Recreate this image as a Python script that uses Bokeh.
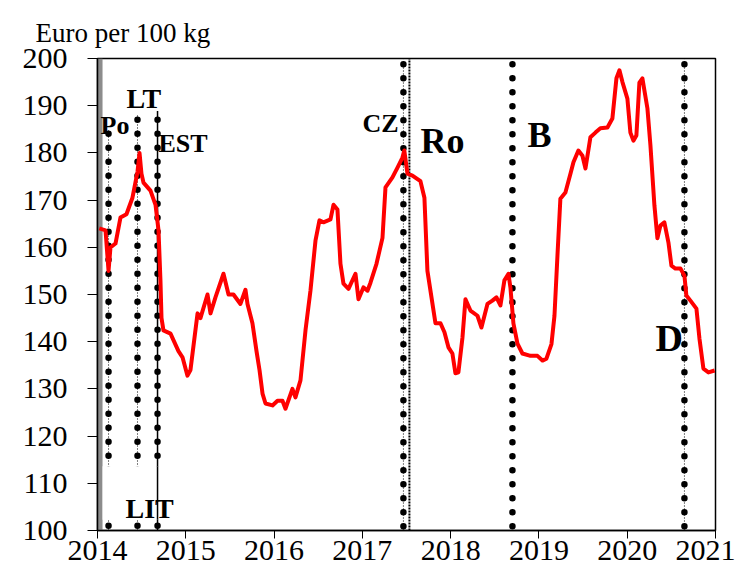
from bokeh.plotting import figure
from bokeh.models import FixedTicker, Range1d, ColumnDataSource
from bokeh.core.properties import value
from bokeh.embed import file_html
from bokeh.resources import INLINE

# ---- data (decimal years, Euro per 100 kg) ----
years = [2014.02, 2014.091, 2014.125, 2014.147, 2014.204, 2014.260, 2014.328, 2014.396, 2014.453, 2014.476,
         2014.498, 2014.521, 2014.600, 2014.657, 2014.691, 2014.713, 2014.725, 2014.747, 2014.827, 2014.917,
         2014.963, 2015.019, 2015.053, 2015.133, 2015.166, 2015.246, 2015.280, 2015.336, 2015.427, 2015.484,
         2015.540, 2015.619, 2015.676, 2015.699, 2015.755, 2015.801, 2015.835, 2015.869, 2015.903, 2015.982,
         2016.039, 2016.095, 2016.129, 2016.208, 2016.242, 2016.299, 2016.356, 2016.412, 2016.469, 2016.514,
         2016.559, 2016.639, 2016.673, 2016.718, 2016.752, 2016.786, 2016.843, 2016.922, 2016.956, 2017.012,
         2017.058, 2017.092, 2017.160, 2017.228, 2017.262, 2017.341, 2017.398, 2017.454, 2017.475, 2017.511,
         2017.567, 2017.658, 2017.703, 2017.737, 2017.783, 2017.828, 2017.885, 2017.930, 2017.975, 2018.020,
         2018.054, 2018.088, 2018.134, 2018.168, 2018.224, 2018.304, 2018.349, 2018.417, 2018.473, 2018.519,
         2018.564, 2018.609, 2018.655, 2018.677, 2018.711, 2018.757, 2018.813, 2018.904, 2018.983, 2019.040,
         2019.085, 2019.142, 2019.176, 2019.210, 2019.243, 2019.300, 2019.357, 2019.391, 2019.447, 2019.493,
         2019.527, 2019.583, 2019.640, 2019.696, 2019.776, 2019.832, 2019.878, 2019.912, 2019.946, 2020.002,
         2020.036, 2020.070, 2020.104, 2020.138, 2020.172, 2020.229, 2020.263, 2020.308, 2020.342, 2020.376,
         2020.421, 2020.467, 2020.501, 2020.546, 2020.603, 2020.648, 2020.670, 2020.716, 2020.784, 2020.818,
         2020.863, 2020.920, 2020.990]
prices = [164.0, 163.6, 155.0, 160.0, 160.8, 166.3, 167.0, 170.5, 176.0, 180.0,
          175.6, 173.7, 172.0, 169.0, 163.6, 153.0, 145.0, 142.4, 141.7, 138.0,
          136.7, 132.8, 134.0, 146.0, 145.0, 150.0, 146.0, 149.4, 154.4, 150.0,
          150.0, 148.0, 151.0, 148.0, 143.9, 138.0, 134.0, 129.0, 126.9, 126.5,
          127.5, 127.5, 125.8, 130.0, 128.2, 131.8, 142.4, 150.8, 161.4, 165.7,
          165.3, 165.9, 169.0, 168.0, 156.5, 152.3, 151.2, 154.4, 149.0, 151.5,
          150.8, 152.5, 156.5, 162.0, 172.7, 174.8, 176.9, 179.0, 180.5, 175.6,
          175.2, 174.0, 170.5, 155.0, 149.4, 143.9, 143.9, 142.0, 138.8, 137.5,
          133.3, 133.5, 140.9, 149.0, 146.6, 145.5, 143.0, 148.0, 148.7, 149.4,
          147.7, 153.0, 154.4, 151.5, 143.9, 139.6, 137.5, 137.0, 137.0, 136.0,
          136.4, 139.5, 145.5, 158.3, 170.3, 171.6, 175.6, 178.0, 180.5, 179.4,
          176.7, 183.3, 184.3, 185.2, 185.4, 187.3, 195.8, 197.5, 195.0, 191.5,
          184.3, 182.6, 183.7, 194.9, 195.8, 189.4, 181.6, 168.9, 161.9, 164.6,
          165.3, 161.0, 156.1, 155.5, 155.5, 154.0, 149.8, 148.7, 147.0, 140.7,
          134.3, 133.5, 133.9]

# ASF outbreak markers
event_names = ["Po", "LT", "EST", "CZ", "B", "D"]
event_years = [2014.125, 2014.453, 2014.68, 2017.465, 2018.70, 2020.648]
event_bottom = [101.0, 101.0, 101.0, 100.9, 100.9, 100.9]
event_top = [185.0, 188.3, 188.5, 199.8, 199.8, 199.8]
thin_dotted = ["Po", "LT", "CZ", "D"]
thin_solid = ["EST"]
ro_year = 2017.533

# annotation texts
label_texts = ["Po", "LT", "EST", "CZ", "Ro", "B", "D", "LIT"]
label_x = [2014.034, 2014.328, 2014.69, 2017.41, 2017.658, 2018.87, 2020.319, 2014.317]
label_y = [185.8, 191.5, 182.0, 186.2, 182.6, 183.7, 140.7, 104.7]
label_size = ["26px", "28px", "26px", "26px", "36px", "36px", "38px", "28px"]
label_align = ["left", "left", "left", "right", "left", "left", "left", "left"]

x_ticks = [2014, 2015, 2016, 2017, 2018, 2019, 2020, 2021]
y_ticks = [100, 110, 120, 130, 140, 150, 160, 170, 180, 190, 200]

FONT = "Liberation Serif"

p = figure(width=735, height=569, output_backend="svg", toolbar_location=None,
           x_range=Range1d(2014, 2021), y_range=Range1d(100, 200),
           min_border_left=97, min_border_right=20, min_border_top=58, min_border_bottom=39)
p.xaxis.major_label_text_font = "Times New Roman"
p.yaxis.major_label_text_font = "Times New Roman"
p.xaxis.major_label_text_font_size = "30px"
p.yaxis.major_label_text_font_size = "30px"
p.xaxis.major_label_text_color = "black"
p.yaxis.major_label_text_color = "black"
p.xaxis.ticker = FixedTicker(ticks=x_ticks)
p.yaxis.ticker = FixedTicker(ticks=y_ticks)

p.xgrid.grid_line_color = None
p.ygrid.grid_line_color = None
p.outline_line_color = "black"
p.outline_line_width = 1.5

p.title.text = "Euro per 100 kg"
p.title.text_font = FONT
p.title.text_font_size = "27px"
p.title.text_font_style = "normal"
p.title.align = "left"
p.title.offset = -62
p.title.standoff = 22
p.title.text_color = "black"

p.xaxis.axis_line_color = "black"
p.yaxis.axis_line_color = "black"
p.xaxis.axis_line_width = 1.5
p.yaxis.axis_line_width = 1.5
p.xaxis.major_tick_line_color = "black"
p.yaxis.major_tick_line_color = "black"
p.xaxis.major_tick_in = 0
p.yaxis.major_tick_in = 0
p.xaxis.minor_tick_line_color = None
p.yaxis.minor_tick_line_color = None
p.xaxis.major_tick_out = 8
p.xaxis.major_label_standoff = 2
p.yaxis.major_tick_out = 10
p.yaxis.major_label_standoff = 20

# gray bar at the left edge
p.quad(left=[2014.0], right=[2014.057], bottom=[100], top=[200], fill_color="#8c8c8c", line_color=None)

# thin lines next to the dotted markers
for name, xv, b, t in zip(event_names, event_years, event_bottom, event_top):
    if name in thin_dotted:
        p.line([xv, xv], [100, t], line_color="black", line_width=1, line_dash="1 2")
    elif name in thin_solid:
        p.line([xv, xv], [100, t + 0.4], line_color="black", line_width=1.5)
p.line([ro_year, ro_year], [100, 200], line_color="black", line_width=2, line_dash="2 1")

# big round dots
p.segment(x0=event_years, y0=event_bottom, x1=event_years, y1=event_top,
          line_color="black", line_width=6.5, line_dash="0 14", line_cap="round")

# gap behind LIT label
p.quad(left=[2014.058], right=[2014.85], bottom=[102.3], top=[113.6], fill_color="white", line_color=None)
p.line([event_years[2], event_years[2]], [102.3, 113.6], line_color="black", line_width=1.5)

# price line
p.line(years, prices, line_color="#ff0000", line_width=4, line_join="round")

src = ColumnDataSource(dict(x=label_x, y=label_y, text=label_texts, size=label_size, align=label_align))
p.text(x="x", y="y", text="text", source=src, text_font=value(FONT), text_font_size="size",
       text_font_style="bold", text_align="align", text_baseline="alphabetic", text_color="black")

open("out.html", "w").write(file_html(p, INLINE))
